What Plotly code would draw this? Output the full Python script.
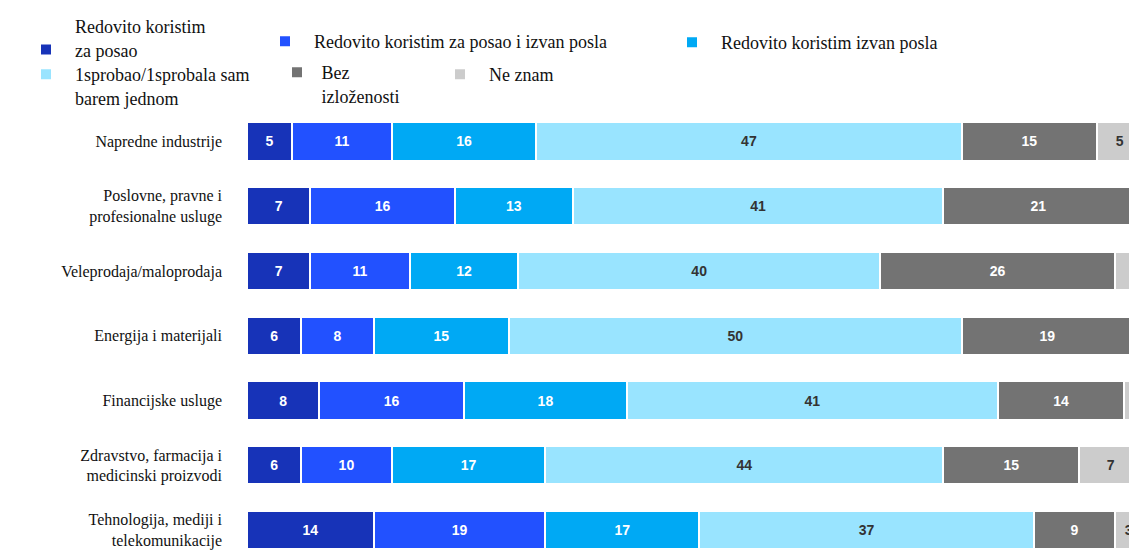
import plotly.graph_objects as go

categories = [
    "Napredne industrije",
    "Poslovne, pravne i<br>profesionalne usluge",
    "Veleprodaja/maloprodaja",
    "Energija i materijali",
    "Financijske usluge",
    "Zdravstvo, farmacija i<br>medicinski proizvodi",
    "Tehnologija, mediji i<br>telekomunikacije",
]

series_names = [
    "Redovito koristim<br>za posao",
    "Redovito koristim za posao i izvan posla",
    "Redovito koristim izvan posla",
    "1sprobao/1sprobala sam<br>barem jednom",
    "Bez<br>izloženosti",
    "Ne znam",
]

za_posao = [5, 7, 7, 6, 8, 6, 14]
posao_i_izvan = [11, 16, 11, 8, 16, 10, 19]
izvan_posla = [16, 13, 12, 15, 18, 17, 17]
isprobao = [47, 41, 40, 50, 41, 44, 37]
bez_izlozenosti = [15, 21, 26, 19, 14, 15, 9]
ne_znam = [5, 2, 4, 3, 4, 7, 3]

values = [za_posao, posao_i_izvan, izvan_posla, isprobao, bez_izlozenosti, ne_znam]
colors = ["#1733B8", "#2251FF", "#00A9F4", "#99E4FF", "#737373", "#CCCCCC"]
text_colors = ["white", "white", "white", "#333333", "white", "#333333"]

W, H = 1137, 558
OFF = 8  # page body margin offset

# legend boxes: (left, top) in screen pixels, symbol alignment, spacer count
legend_pos = [
    (26, 4.5, "bottom", 2),
    (265, 23, "middle", 2),
    (672, 24, "middle", 2),
    (26, 56, "top", 2),
    (277, 54, "top", 1),
    (440, 56, "top", 2),
]

serif = "Liberation Serif, Times New Roman, serif"

fig = go.Figure()
for i, (name, vals) in enumerate(zip(series_names, values)):
    nb = "\u00a0" * legend_pos[i][3]
    lname = "<br>".join(nb + part for part in name.split("<br>"))
    fig.add_trace(go.Bar(
        y=categories, x=vals, orientation="h",
        name=lname,
        marker=dict(color=colors[i], line=dict(color="white", width=2)),
        text=vals, textposition="inside", insidetextanchor="middle",
        textangle=0,
        textfont=dict(family="Liberation Sans, Arial, sans-serif", size=14,
                      color=text_colors[i], weight="bold"),
        legend="legend" if i == 0 else f"legend{i+1}",
        hoverinfo="skip",
    ))

layout_legends = {}
for i, (px, py, va, _) in enumerate(legend_pos):
    key = "legend" if i == 0 else f"legend{i+1}"
    layout_legends[key] = dict(
        x=(px - OFF) / W, y=1 - (py - OFF) / H, xref="container", yref="container",
        xanchor="left", yanchor="top", valign=va,
        bgcolor="rgba(0,0,0,0)", borderwidth=0,
        font=dict(family=serif, size=18, color="#111111"),
        itemclick=False, itemdoubleclick=False,
    )

plot_w = W - (247 - OFF)
x_max = 98.4 * plot_w / 890

fig.update_layout(
    width=W, height=H,
    barmode="stack",
    bargap=0.41,
    showlegend=True,
    font=dict(family=serif),
    plot_bgcolor="white", paper_bgcolor="white",
    margin=dict(l=247 - OFF, r=0, t=108.6 - OFF, b=OFF, autoexpand=False),
    xaxis=dict(range=[0, x_max], visible=False, fixedrange=True, automargin=False),
    yaxis=dict(categoryorder="array", categoryarray=categories, automargin=False,
               range=[6.43, -0.5], showgrid=False, zeroline=False,
               ticklabelstandoff=24, showline=False, ticks="",
               tickfont=dict(family=serif, size=16, color="#111111")),
    uniformtext=dict(mode=False),
    **layout_legends,
)

fig.write_html("out.html")
